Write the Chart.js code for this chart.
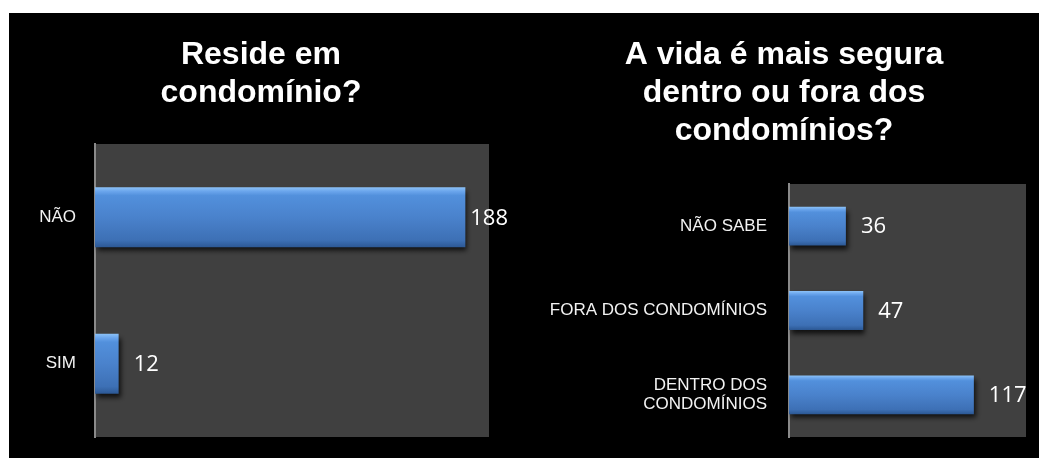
<!DOCTYPE html>
<html>
<head>
<meta charset="utf-8">
<script src="https://cdn.jsdelivr.net/npm/chart.js@4.4.1/dist/chart.umd.min.js"></script>
<style>
html,body{margin:0;padding:0;background:#fff;width:1039px;height:458px;overflow:hidden}
#bg{position:absolute;left:9px;top:13px;width:1030px;height:445px;background:#000}
#c1{position:absolute;left:33px;top:13px}
#c2{position:absolute;left:542px;top:13px}
</style>
</head>
<body>
<div id="bg"></div>
<canvas id="c1" width="480" height="445"></canvas>
<canvas id="c2" width="497" height="445"></canvas>
<script>
// ---- data ----
const residenceTitle = ['Reside em', 'condomínio?'];
const residenceCategories = ['NÃO', 'SIM'];
const residenceValues = [188, 12];
const residenceAxisMax = 200;

const safetyTitle = ['A vida é mais segura', 'dentro ou fora dos', 'condomínios?'];
const safetyCategories = ['NÃO SABE', 'FORA DOS CONDOMÍNIOS', ['DENTRO DOS', 'CONDOMÍNIOS']];
const safetyValues = [36, 47, 117];
const safetyAxisMax = 150;

// ---- styling helpers ----
const SANS = '"Liberation Sans", Arial, sans-serif';

const plotBg = {
  id: 'plotBg',
  beforeDraw(chart) {
    const {ctx, chartArea: a} = chart;
    ctx.save();
    ctx.fillStyle = '#404040';
    ctx.fillRect(a.left, a.top, a.right - a.left, a.bottom - a.top);
    ctx.restore();
  }
};

const barDecor = {
  id: 'barDecor',
  beforeDatasetsDraw(chart) {
    const ctx = chart.ctx;
    ctx.save();
    ctx.shadowColor = 'rgba(0,0,0,0.75)';
    ctx.shadowBlur = 5;
    ctx.shadowOffsetX = 2;
    ctx.shadowOffsetY = 4;
  },
  afterDatasetsDraw(chart, args, opts) {
    const {ctx, chartArea} = chart;
    ctx.restore();
    const meta = chart.getDatasetMeta(0);
    const data = chart.data.datasets[0].data;
    ctx.save();
    ctx.font = opts.font;
    ctx.fillStyle = opts.color;
    ctx.textAlign = 'left';
    ctx.textBaseline = 'middle';
    meta.data.forEach((bar, i) => {
      const txt = String(data[i]);
      const w = ctx.measureText(txt).width;
      let x = bar.x + opts.offset;
      const maxX = chartArea.right + opts.overflow - w;
      if (x > maxX) x = maxX;
      ctx.fillText(txt, x, bar.y + 1);
    });
    ctx.restore();
  }
};

function barGradient(barPct) {
  return function (c) {
    const chart = c.chart;
    const ys = chart.scales && chart.scales.y;
    if (!ys || !chart.chartArea) return '#4a82cc';
    const n = chart.data.labels.length;
    const center = ys.getPixelForValue(c.dataIndex);
    const half = (ys.height / n) * barPct / 2;
    const g = chart.ctx.createLinearGradient(0, center - half, 0, center + half);
    g.addColorStop(0, '#8cc2f7');
    g.addColorStop(0.07, '#6aa5ec');
    g.addColorStop(0.14, '#5290dc');
    g.addColorStop(0.5, '#4a82cc');
    g.addColorStop(0.88, '#3d70b5');
    g.addColorStop(1, '#2c5894');
    return g;
  };
}

function makeChart(canvasId, cfg) {
  return new Chart(document.getElementById(canvasId), {
    type: 'bar',
    data: {
      labels: cfg.labels,
      datasets: [{
        data: cfg.values,
        backgroundColor: barGradient(cfg.barPct),
        borderWidth: 0,
        barPercentage: cfg.barPct,
        categoryPercentage: 1
      }]
    },
    options: {
      indexAxis: 'y',
      responsive: false,
      animation: false,
      devicePixelRatio: 1,
      layout: {padding: {left: 0, top: 0, right: cfg.padRight, bottom: 21}},
      scales: {
        x: {display: false, min: 0, max: cfg.max},
        y: {
          grid: {display: false, drawTicks: false},
          border: {display: true, color: '#8a8a8a', width: 2},
          ticks: {
            color: '#f2f2f2',
            padding: cfg.tickPad,
            font: {family: SANS, size: 17, lineHeight: 1.1}
          },
          afterFit(scale) {
            scale.width = cfg.axisWidth;
            scale.paddingTop = 0;
            scale.paddingBottom = 0;
          }
        }
      },
      plugins: {
        legend: {display: false},
        tooltip: {enabled: false},
        title: {
          display: true,
          text: cfg.title,
          color: '#ffffff',
          font: {family: SANS, size: 32, weight: 'bold', lineHeight: 38 / 32},
          padding: {top: 23, bottom: cfg.titleBottom}
        },
        barDecor: {font: '22px "Open Sans", sans-serif', color: '#ffffff', offset: 15, overflow: 19}
      }
    },
    plugins: [plotBg, barDecor]
  });
}

makeChart('c1', {
  labels: residenceCategories,
  values: residenceValues,
  max: residenceAxisMax,
  title: residenceTitle,
  titleBottom: 32,
  barPct: 0.41,
  padRight: 24,
  axisWidth: 62,
  tickPad: 19
});

makeChart('c2', {
  labels: safetyCategories,
  values: safetyValues,
  max: safetyAxisMax,
  title: safetyTitle,
  titleBottom: 34,
  barPct: 0.46,
  padRight: 13,
  axisWidth: 247,
  tickPad: 22
});
</script>
</body>
</html>
